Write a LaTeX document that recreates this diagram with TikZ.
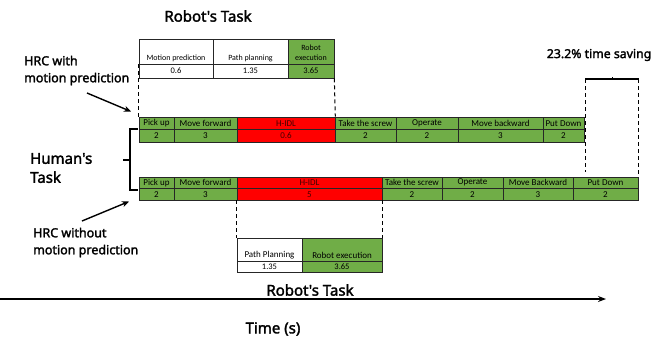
\documentclass[tikz,border=0pt]{standalone}
\usepackage{fontspec}
\setmainfont{Carlito}
\newfontfamily\lab{Noto Sans}[AutoFakeBold=2]
\usetikzlibrary{arrows.meta}
\definecolor{xgreen}{RGB}{112,173,71}
\definecolor{xdred}{RGB}{70,0,0}
\newcommand\cellbox[7]{%
  \node[#6, minimum width={(#3)-(#2)}, minimum height={(#5)-(#4)}] (#1) at ({((#2)+(#3))/2},{((#4)+(#5))/2}) {#7};}
\begin{document}
\begin{tikzpicture}[x=1pt,y=-1pt,
  cell/.style={draw=black!85, line width=0.6pt, inner sep=0pt, font=\fontsize{9}{10}\selectfont},
  gcell/.style={cell, fill=xgreen},
  rcell/.style={cell, fill=red, text=xdred},
  wcell/.style={cell, fill=white},
  small/.style={inner sep=0pt, font=\fontsize{8}{10}\selectfont, align=center},
  mid/.style={inner sep=0pt, font=\fontsize{9}{10}\selectfont, align=center},
  lbl/.style={inner sep=0pt, font=\lab\bfseries\fontsize{12.5}{17}\selectfont, align=left},
  big/.style={inner sep=0pt, font=\lab\bfseries\fontsize{15}{19}\selectfont, align=left},
  dashln/.style={line width=1pt, dash pattern=on 4pt off 3pt},
  arr/.style={line width=1.4pt, -{Stealth[length=7pt,width=6pt]}},
]
\useasboundingbox (0,0) rectangle (653,341);

% ---- top robot table (with prediction)
\cellbox{ta}{139}{213}{39}{64}{wcell}{}
\cellbox{tb}{213}{288}{39}{64}{wcell}{}
\cellbox{tc}{288}{334}{39}{64}{gcell}{}
\node[small, anchor=center] (tat) at (176,58) {Motion prediction};
\node[small, anchor=center] (tbt) at (250.5,58) {Path planning};
\node[small, anchor=center] (tct) at (311,53) {Robot\\execution};
\cellbox{tav}{139}{213}{64}{78}{wcell,font=\fontsize{8.5}{9}\selectfont}{0.6}
\cellbox{tbv}{213}{288}{64}{78}{wcell,font=\fontsize{8.5}{9}\selectfont}{1.35}
\cellbox{tcv}{288}{334}{64}{78}{gcell,font=\fontsize{8.5}{9}\selectfont}{3.65}

% ---- top human row
\cellbox{h1}{139}{174}{117}{129.5}{gcell}{Pick up}
\cellbox{h2}{174}{237}{117}{129.5}{gcell}{Move forward}
\cellbox{h3}{237}{335}{117}{129.5}{rcell}{H-IDL}
\cellbox{h4}{335}{396}{117}{129.5}{gcell}{Take the screw}
\cellbox{h5}{396}{458}{117}{129.5}{gcell}{Operate}
\cellbox{h6}{458}{543}{117}{129.5}{gcell}{Move backward}
\cellbox{h7}{543}{584}{117}{129.5}{gcell}{Put Down}
\cellbox{v1}{139}{174}{129.5}{142}{gcell}{2}
\cellbox{v2}{174}{237}{129.5}{142}{gcell}{3}
\cellbox{v3}{237}{335}{129.5}{142}{rcell}{0.6}
\cellbox{v4}{335}{396}{129.5}{142}{gcell}{2}
\cellbox{v5}{396}{458}{129.5}{142}{gcell}{2}
\cellbox{v6}{458}{543}{129.5}{142}{gcell}{3}
\cellbox{v7}{543}{584}{129.5}{142}{gcell}{2}

% ---- bottom human row
\cellbox{b1}{139}{174}{177}{188.5}{gcell}{Pick up}
\cellbox{b2}{174}{237}{177}{188.5}{gcell}{Move forward}
\cellbox{b3}{237}{382}{177}{188.5}{rcell}{H-IDL}
\cellbox{b4}{382}{442}{177}{188.5}{gcell}{Take the screw}
\cellbox{b5}{442}{503}{177}{188.5}{gcell}{Operate}
\cellbox{b6}{503}{573}{177}{188.5}{gcell}{Move Backward}
\cellbox{b7}{573}{638}{177}{188.5}{gcell}{Put Down}
\cellbox{w1}{139}{174}{188.5}{200}{gcell}{2}
\cellbox{w2}{174}{237}{188.5}{200}{gcell}{3}
\cellbox{w3}{237}{382}{188.5}{200}{rcell}{5}
\cellbox{w4}{382}{442}{188.5}{200}{gcell}{2}
\cellbox{w5}{442}{503}{188.5}{200}{gcell}{2}
\cellbox{w6}{503}{573}{188.5}{200}{gcell}{3}
\cellbox{w7}{573}{638}{188.5}{200}{gcell}{2}

% ---- bottom robot table (without prediction)
\cellbox{pa}{237}{302}{238}{261}{wcell}{}
\cellbox{pb}{302}{382}{238}{261}{gcell}{}
\node[mid] (pat) at (269.5,255) {Path Planning};
\node[mid] (pbt) at (342,255) {Robot execution};
\cellbox{pav}{237}{302}{261}{272}{wcell,font=\fontsize{8.5}{9}\selectfont}{1.35}
\cellbox{pbv}{302}{382}{261}{272}{gcell,font=\fontsize{8.5}{9}\selectfont}{3.65}

% ---- dashed guides
\draw[dashln] (ta.south west) -- (h1.north west);
\draw[dashln] (tc.south east |- tcv.south) -- (h3.north east);
\draw[dashln] (b3.south west |- w3.south) -- (pa.north west);
\draw[dashln] (w3.south east) -- (pb.north east);
\coordinate (sl) at (585,79);
\coordinate (sr) at (638.5,79);
\coordinate (slb) at (585,172);
\coordinate (srb) at (638.5,175);
\draw[dashln] (sl) -- (slb);
\draw[dashln] (sr) -- (srb);
\coordinate (sm) at (612,79);
\coordinate (smt) at (612,76.5);
\draw[line width=1.2pt] (sl) -- (sr);
\draw[line width=1pt] (sm) -- (smt);
\node[lbl, anchor=east, font=\lab\bfseries\fontsize{12.3}{15}\selectfont] (sav) at (651.5,55) {23.2\% time saving};

% ---- brace
\coordinate (bt) at (138,129);
\coordinate (bb) at (138,190);
\coordinate (bm) at (123,160);
\draw[line width=1.1pt] (bt) -- (130,129) -- (130,190) -- (bb);
\draw[line width=1.1pt] (130,160) -- (bm);

% ---- labels
\node[big, anchor=center] (rt1) at (208,16) {Robot's Task};
\node[lbl, anchor=west] (l1) at (24,70.5) {HRC with\\motion prediction};
\node[big, anchor=west] (l2) at (30,168) {Human's\\Task};
\node[lbl, anchor=west] (l3) at (33,242.5) {HRC without\\motion prediction};
\coordinate (a1s) at (87,93);
\coordinate (a1e) at (131,111.5);
\draw[arr] (a1s) -- (a1e);
\coordinate (a2s) at (82,221);
\coordinate (a2e) at (129,201.5);
\draw[arr] (a2s) -- (a2e);

% ---- time axis
\coordinate (ts) at (0,299);
\coordinate (te) at (606,299);
\draw[line width=1.2pt, -{Stealth[length=8pt,width=6pt]}] (ts) -- (te);
\node[big, anchor=center] (rt2) at (310,290) {Robot's Task};
\node[big, anchor=center] (tm) at (273,329) {Time (s)};
\end{tikzpicture}
\end{document}
